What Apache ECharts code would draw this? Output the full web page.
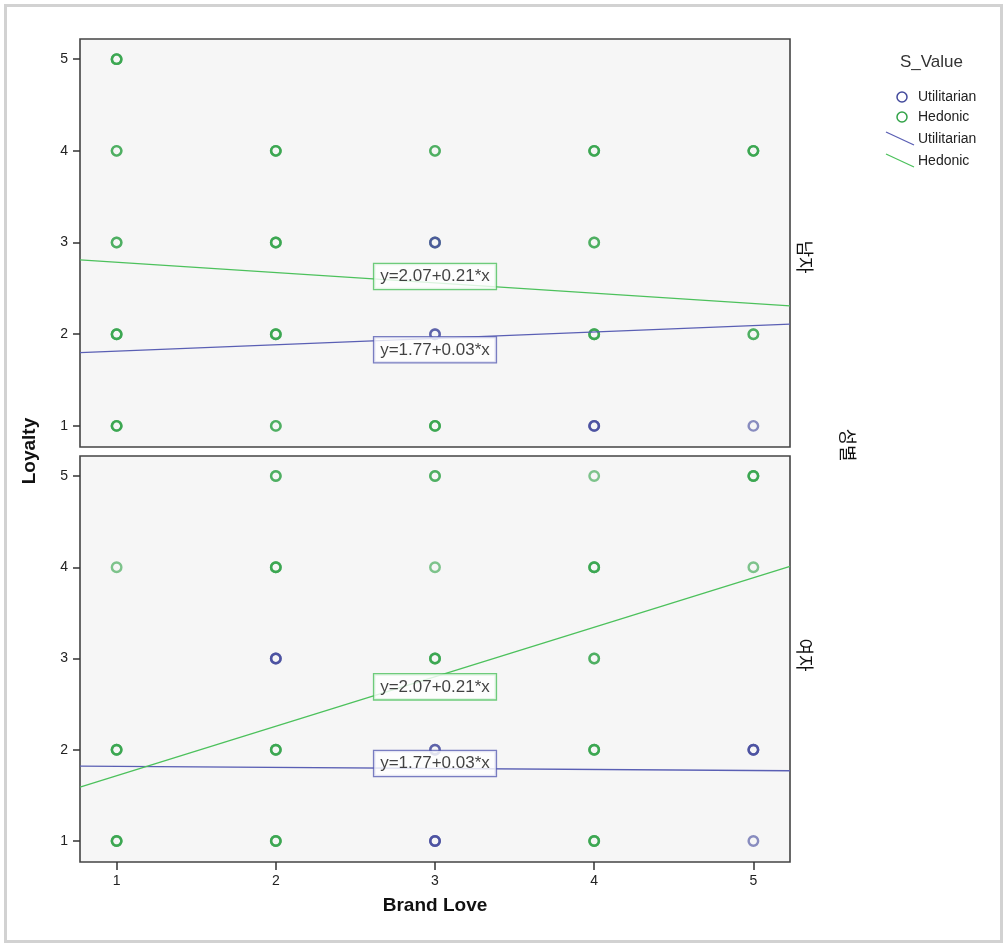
<!DOCTYPE html>
<html><head><meta charset="utf-8">
<script src="https://cdn.jsdelivr.net/npm/echarts@6/dist/echarts.min.js"></script>
<style>html,body{margin:0;padding:0;background:#fff}#c{width:1007px;height:946px}</style>
</head><body><div id="c"></div>
<script>
// ---- data ----
const xTicks = [1, 2, 3, 4, 5];
const yTicks = [1, 2, 3, 4, 5];
const panelLabels = ['남자', '여자'];
const facetTitle = '성별';
const groups = ['Utilitarian', 'Hedonic'];
// points: [Brand Love, Loyalty, count of overlapping cases]
const maleUtil = [[3,3,2],[3,2,2],[4,1,3],[5,1,1]];
const maleHed = [[1,5,3],[1,4,2],[1,3,2],[1,2,3],[1,1,3],[2,4,3],[2,3,3],[2,2,3],[2,1,2],
                 [3,4,2],[3,3,1],[3,1,3],[4,4,3],[4,3,2],[4,2,3],[5,4,3],[5,2,2]];
const femaleUtil = [[2,3,3],[3,2,2],[3,1,3],[5,2,3],[5,1,1]];
const femaleHed = [[1,4,1],[1,2,3],[1,1,3],[2,5,2],[2,4,3],[2,2,3],[2,1,3],[3,5,2],[3,4,1],
                   [3,3,3],[4,5,1],[4,4,3],[4,3,2],[4,2,3],[4,1,3],[5,5,3],[5,4,1]];
// fit lines (endpoints at axis limits)
const maleUtilFit = [[0.77,1.80],[5.23,2.11]];
const maleHedFit = [[0.77,2.81],[5.23,2.31]];
const femaleUtilFit = [[0.77,1.82],[5.23,1.77]];
const femaleHedFit = [[0.77,1.59],[5.23,4.01]];
// equation labels
const eqUtil = 'y=1.77+0.03*x';
const eqHed = 'y=2.07+0.21*x';
const maleEqPos = {Utilitarian: [3, 1.83], Hedonic: [3, 2.63]};
const femaleEqPos = {Utilitarian: [3, 1.85], Hedonic: [3, 2.69]};

// ---- styles ----
const C_UTIL = '#434a9c', C_HED = '#32a348';
const L_UTIL = '#5a5fb4', L_HED = '#4cc15c';
const FONT = 'Liberation Sans, Arial, "Noto Sans CJK KR", sans-serif';

function expand(arr) {
  const out = [];
  arr.forEach(p => { for (let i = 0; i < p[2]; i++) out.push([p[0], p[1]]); });
  return out;
}
function pts(name, arr, color, gi) {
  return {
    name, type: 'scatter', xAxisIndex: gi, yAxisIndex: gi, data: expand(arr),
    symbol: 'circle', symbolSize: 9.5, silent: true,
    itemStyle: {color: 'rgba(0,0,0,0)', borderColor: color, borderWidth: 2.4, opacity: 0.62},
    z: 3
  };
}
function fit(name, arr, color, gi) {
  return {
    name, type: 'line', xAxisIndex: gi, yAxisIndex: gi, data: arr, symbol: 'none',
    lineStyle: {color, width: 1.3}, silent: true, z: 4
  };
}
function eq(text, pos, color, gi) {
  return {
    type: 'scatter', xAxisIndex: gi, yAxisIndex: gi, data: [pos], symbolSize: 0, silent: true, z: 6,
    label: {show: true, position: 'inside', formatter: text, fontFamily: FONT, fontSize: 17,
      color: '#111', backgroundColor: '#fff', borderColor: color, borderWidth: 1.3, padding: [4, 6]}
  };
}

const grids = [
  {left: 80, top: 39, width: 710, height: 408},
  {left: 80, top: 456, width: 710, height: 406}
].map(g => Object.assign(g, {show: true, backgroundColor: '#f6f6f6', borderColor: '#444', borderWidth: 1.6}));

const xAxes = [0, 1].map(i => ({
  type: 'value', gridIndex: i, min: 0.77, max: 5.23,
  axisLine: {show: false}, splitLine: {show: false},
  axisTick: {show: i === 1, customValues: xTicks, length: 8, lineStyle: {color: '#333', width: 1.5}},
  axisLabel: {show: i === 1, customValues: xTicks, margin: 12, fontSize: 14, color: '#222', fontFamily: FONT}
}));
const yAxes = [0, 1].map(i => ({
  type: 'value', gridIndex: i, min: 0.77, max: 5.22,
  axisLine: {show: false}, splitLine: {show: false},
  axisTick: {show: true, customValues: yTicks, length: 7, lineStyle: {color: '#333', width: 1.5}},
  axisLabel: {customValues: yTicks, margin: 12, fontSize: 14, color: '#222', fontFamily: FONT}
}));

const series = [
  pts('Hedonic', maleHed, C_HED, 0), pts('Utilitarian', maleUtil, C_UTIL, 0),
  pts('Hedonic', femaleHed, C_HED, 1), pts('Utilitarian', femaleUtil, C_UTIL, 1),
  fit('Utilitarian fit', maleUtilFit, L_UTIL, 0), fit('Hedonic fit', maleHedFit, L_HED, 0),
  fit('Utilitarian fit', femaleUtilFit, L_UTIL, 1), fit('Hedonic fit', femaleHedFit, L_HED, 1),
  eq(eqHed, maleEqPos.Hedonic, L_HED, 0), eq(eqUtil, maleEqPos.Utilitarian, L_UTIL, 0),
  eq(eqHed, femaleEqPos.Hedonic, L_HED, 1), eq(eqUtil, femaleEqPos.Utilitarian, L_UTIL, 1)
];

const txt = (text, x, y, o) => Object.assign({type: 'text', x, y,
  style: Object.assign({text, fontFamily: FONT, fill: '#222', align: 'left', verticalAlign: 'middle'}, o.style || {})},
  o.rotation !== undefined ? {rotation: o.rotation} : {});

const graphic = [
  {type: 'rect', shape: {x: 5.5, y: 5.5, width: 996, height: 936}, style: {fill: 'none', stroke: '#d2d2d2', lineWidth: 3}, z: -1},
  txt('Loyalty', 30, 451, {rotation: Math.PI / 2, style: {fontSize: 19, fontWeight: 'bold', align: 'center', fill: '#111'}}),
  txt('Brand Love', 435, 906, {style: {fontSize: 19, fontWeight: 'bold', align: 'center', fill: '#111'}}),
  txt(panelLabels[0], 803, 257, {rotation: -Math.PI / 2, style: {fontSize: 18, align: 'center', fill: '#111'}}),
  txt(panelLabels[1], 803, 655, {rotation: -Math.PI / 2, style: {fontSize: 18, align: 'center', fill: '#111'}}),
  txt(facetTitle, 846, 445, {rotation: -Math.PI / 2, style: {fontSize: 18, align: 'center', fill: '#111'}}),
  // legend
  txt('S_Value', 900, 62, {style: {fontSize: 17, fill: '#333'}}),
  {type: 'circle', shape: {cx: 902, cy: 97, r: 5}, style: {fill: 'none', stroke: C_UTIL, lineWidth: 1.5}},
  txt(groups[0], 918, 97, {style: {fontSize: 14, fill: '#222'}}),
  {type: 'circle', shape: {cx: 902, cy: 117, r: 5}, style: {fill: 'none', stroke: C_HED, lineWidth: 1.5}},
  txt(groups[1], 918, 117, {style: {fontSize: 14, fill: '#222'}}),
  {type: 'line', shape: {x1: 886, y1: 132, x2: 914, y2: 145}, style: {stroke: L_UTIL, lineWidth: 1.3}},
  txt(groups[0], 918, 139, {style: {fontSize: 14, fill: '#222'}}),
  {type: 'line', shape: {x1: 886, y1: 154, x2: 914, y2: 167}, style: {stroke: L_HED, lineWidth: 1.3}},
  txt(groups[1], 918, 161, {style: {fontSize: 14, fill: '#222'}})
];

const chart = echarts.init(document.getElementById('c'));
chart.setOption({
  animation: false, backgroundColor: '#fff',
  grid: grids, xAxis: xAxes, yAxis: yAxes, series, graphic
});
</script></body></html>
